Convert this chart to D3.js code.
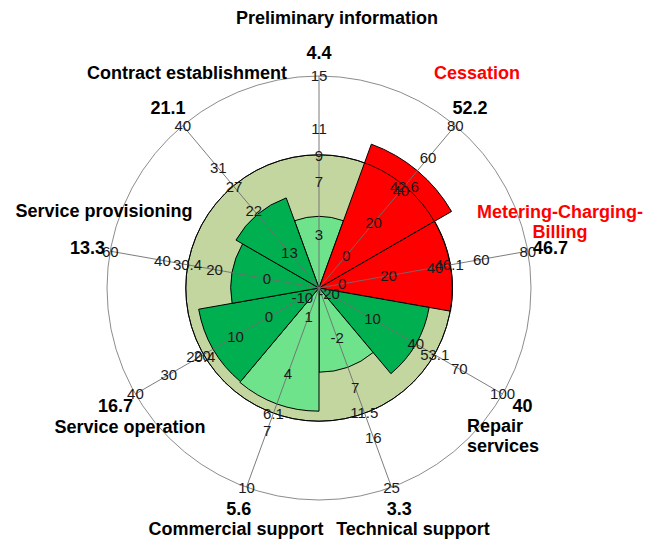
<!DOCTYPE html>
<html>
<head>
<meta charset="utf-8">
<script src="https://cdn.jsdelivr.net/npm/d3@7"></script>
<style>
  body { margin: 0; background: #fff; }
  text { font-family: "Liberation Sans", Arial, sans-serif; }
</style>
</head>
<body>
<div id="chart"></div>
<script>
// categories, clockwise from the top
var categories = ["Preliminary information", "Cessation", "Metering-Charging-Billing",
  "Repair services", "Technical support", "Commercial support",
  "Service operation", "Service provisioning", "Contract establishment"];
var values     = [4.4, 52.2, 46.7, 40, 3.3, 5.6, 16.7, 13.3, 21.1];
var benchmarks = [9, 42.6, 46.1, 53.1, 11.5, 6.1, 20.4, 30.4, 27];
var barStatus  = ["low", "high", "high", "mid", "low", "low", "mid", "mid", "mid"];
// each spoke has its own scale
var axisMin    = [-1, -20, -10, -27, -11, -0.5, -15, -20, 5.5];
var axisMax    = [15, 80, 80, 100, 25, 10, 40, 60, 40];
var axisTicks  = [
  [3, 7, 11, 15],
  [0, 20, 40, 60, 80],
  [0, 20, 40, 60, 80],
  [-20, 10, 40, 70, 100],
  [-2, 7, 16, 25],
  [1, 4, 7, 10],
  [-10, 0, 10, 20, 30, 40],
  [0, 20, 40, 60],
  [13, 22, 31, 40]
];

var width = 645, height = 544,
    cx = 319, cy = 288, R = 212;

// label placement (offsets from the centre), kept apart from the data
var nameLayout = [
  {dx: 18,   dy: -264, anchor: "middle", lines: ["Preliminary information"]},
  {dx: 158,  dy: -209, anchor: "middle", lines: ["Cessation"]},
  {dx: 241,  dy: -70,  anchor: "middle", lines: ["Metering-Charging-", "Billing"]},
  {dx: 148,  dy: 144,  anchor: "start",  lines: ["Repair", "services"]},
  {dx: 94,   dy: 247,  anchor: "middle", lines: ["Technical support"]},
  {dx: -83,  dy: 247,  anchor: "middle", lines: ["Commercial support"]},
  {dx: -189, dy: 145,  anchor: "middle", lines: ["Service operation"]},
  {dx: -215, dy: -71,  anchor: "middle", lines: ["Service provisioning"]},
  {dx: -132, dy: -209, anchor: "middle", lines: ["Contract establishment"]}
];

var color = d3.scaleOrdinal()
  .domain(["high", "mid", "low"])
  .range(["#ff0000", "#00b050", "#6ee38c"]);

var slice = 2 * Math.PI / categories.length;
var angle = d3.scaleBand()
  .domain(categories)
  .range([-slice / 2, 2 * Math.PI - slice / 2]);

var rScales = categories.map(function(c, i) {
  return d3.scaleLinear().domain([axisMin[i], axisMax[i]]).range([0, R]);
});

var data = categories.map(function(c, i) {
  return {name: c, value: values[i], bench: benchmarks[i], state: barStatus[i],
          ticks: axisTicks[i], r: rScales[i], a0: angle(c), a1: angle(c) + angle.bandwidth(),
          mid: angle(c) + angle.bandwidth() / 2};
});

function polar(a, r) {
  return [Math.sin(a) * r, -Math.cos(a) * r];
}

var svg = d3.select("#chart")
  .append("svg")
    .attr("width", width)
    .attr("height", height)
  .append("g")
    .attr("transform", "translate(" + cx + "," + cy + ")");

// outer ring
svg.append("circle")
  .attr("r", R)
  .style("fill", "none")
  .style("stroke", "#8c8c8c")
  .style("stroke-width", 1);

// benchmark ring radius, read through each spoke's scale
var benchR = d3.mean(data, function(d) { return d.r(d.bench); });

svg.append("circle")
  .attr("r", benchR)
  .style("fill", "#c4d6a0")
  .style("stroke", "#000")
  .style("stroke-width", 1);

// bars
var arc = d3.arc()
  .innerRadius(0)
  .outerRadius(function(d) { return d.r(d.value); })
  .startAngle(function(d) { return d.a0; })
  .endAngle(function(d) { return d.a1; });

svg.append("g")
  .selectAll("path")
  .data(data)
  .enter()
  .append("path")
    .attr("d", arc)
    .style("fill", function(d) { return color(d.state); })
    .style("stroke", "#000")
    .style("stroke-width", 1);

// benchmark outline again over the bars
svg.append("circle")
  .attr("r", benchR)
  .style("fill", "none")
  .style("stroke", "#000")
  .style("stroke-width", 0.8);

// spokes
svg.append("g")
  .selectAll("line")
  .data(data)
  .enter()
  .append("line")
    .attr("x1", 0).attr("y1", 0)
    .attr("x2", function(d) { return polar(d.mid, R)[0]; })
    .attr("y2", function(d) { return polar(d.mid, R)[1]; })
    .style("stroke", "#6e6e6e")
    .style("stroke-width", 0.9);

// tick labels on each spoke (plus the benchmark value)
data.forEach(function(d) {
  var labels = d.ticks.map(function(t) { return {v: t, txt: String(t)}; });
  labels.push({v: d.bench, txt: String(d.bench)});
  svg.append("g")
    .selectAll("text")
    .data(labels)
    .enter()
    .append("text")
      .attr("x", function(t) { return polar(d.mid, d.r(t.v))[0]; })
      .attr("y", function(t) { return polar(d.mid, d.r(t.v))[1]; })
      .attr("dy", "0.36em")
      .attr("text-anchor", "middle")
      .style("font-size", "15px")
      .style("fill", "#1a1a1a")
      .text(function(t) { return t.txt; });
});

// bar values in bold just outside the ring
svg.append("g")
  .selectAll("text")
  .data(data)
  .enter()
  .append("text")
    .attr("x", function(d) { return polar(d.mid, R + 23)[0]; })
    .attr("y", function(d) { return polar(d.mid, R + 23)[1]; })
    .attr("dy", "0.36em")
    .attr("text-anchor", "middle")
    .style("font-size", "18px")
    .style("font-weight", "bold")
    .style("fill", "#000")
    .text(function(d) { return d.value; });

// category names
data.forEach(function(d, i) {
  var lay = nameLayout[i];
  var t = svg.append("text")
    .attr("x", lay.dx)
    .attr("y", lay.dy)
    .attr("text-anchor", lay.anchor)
    .style("font-size", "18px")
    .style("font-weight", "bold")
    .style("fill", d.state === "high" ? "#ff0000" : "#000");
  lay.lines.forEach(function(line, j) {
    t.append("tspan")
      .attr("x", lay.dx)
      .attr("dy", j === 0 ? 0 : 20)
      .text(line);
  });
});
</script>
</body>
</html>
